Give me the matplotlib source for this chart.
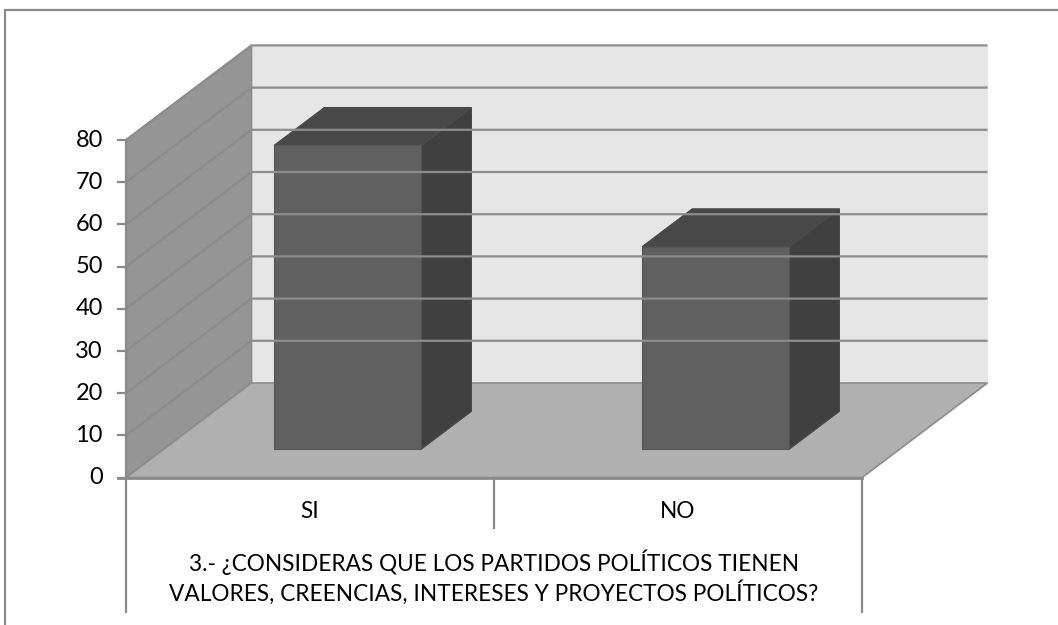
import matplotlib
matplotlib.use("Agg")
import matplotlib.pyplot as plt
from matplotlib.patches import Polygon, Rectangle
from matplotlib.lines import Line2D

# ---- data ----
categories = ["SI", "NO"]
values = [72, 48]
y_ticks = [0, 10, 20, 30, 40, 50, 60, 70, 80]
axis_title = ["3.- ¿CONSIDERAS QUE LOS PARTIDOS POLÍTICOS TIENEN",
              "VALORES, CREENCIAS, INTERESES Y PROYECTOS POLÍTICOS?"]

plt.rcParams["font.family"] = ["Lato", "DejaVu Sans"]

W, H = 1058, 625
fig = plt.figure(figsize=(W / 100, H / 100), dpi=100)
ax = fig.add_axes([0, 0, 1, 1])
ax.set_axis_off()

# front plane: category units along x, value units along y
x0_px, cat_px = 126.0, 368.0
y0_px, unit_px = 477.6, 4.22
ax.set_xlim(-x0_px / cat_px, (W - x0_px) / cat_px)
ax.set_ylim((y0_px - H) / unit_px, y0_px / unit_px)

# oblique depth offset (full depth of the plot box)
DX, DY = 125.5 / cat_px, 94.6 / unit_px
ymax = y_ticks[-1]
ncat = len(categories)


def P(x, y, d):
    """Project point (category x, value y, depth d in [0,1])."""
    return (x + DX * d, y + DY * d)


grid_c = "#8c8c8c"
kw = dict(clip_on=False)

# back wall
ax.add_patch(Polygon([P(0, 0, 1), P(ncat, 0, 1), P(ncat, ymax, 1), P(0, ymax, 1)],
                     closed=True, facecolor="#e6e6e6", edgecolor="none", **kw))
# left wall
ax.add_patch(Polygon([P(0, 0, 0), P(0, 0, 1), P(0, ymax, 1), P(0, ymax, 0)],
                     closed=True, facecolor="#959595", edgecolor=grid_c, lw=1.2, **kw))

# gridlines on both walls
for v in y_ticks[1:]:
    ax.add_line(Line2D(*zip(P(0, v, 0), P(0, v, 1), P(ncat, v, 1)),
                       color=grid_c, lw=1.6, solid_capstyle="butt", **kw))

# floor
ax.add_patch(Polygon([P(0, 0, 0), P(ncat, 0, 0), P(ncat, 0, 1), P(0, 0, 1)],
                     closed=True, facecolor="#b0b0b0", edgecolor=grid_c, lw=1.2, **kw))

# bars
bar_w, d_front, d_depth = 0.4, 0.30, 0.40
for i, v in enumerate(values):
    xl = i + 0.5 - bar_w / 2
    xr = i + 0.5 + bar_w / 2
    d0, d1 = d_front, d_front + d_depth
    front = [P(xl, 0, d0), P(xr, 0, d0), P(xr, v, d0), P(xl, v, d0)]
    top = [P(xl, v, d0), P(xr, v, d0), P(xr, v, d1), P(xl, v, d1)]
    side = [P(xr, 0, d0), P(xr, 0, d1), P(xr, v, d1), P(xr, v, d0)]
    ax.add_patch(Polygon(side, closed=True, facecolor="#404040", edgecolor="#4a4a4a", lw=0.8, **kw))
    ax.add_patch(Polygon(top, closed=True, facecolor="#484848", edgecolor="#4a4a4a", lw=0.8, **kw))
    ax.add_patch(Polygon(front, closed=True, facecolor="#606060", edgecolor="#555555", lw=0.8, **kw))

# value axis with ticks and labels
axis_c = "#8a8a8a"
tick_len = 8 / cat_px
ax.add_line(Line2D([0, 0], [0, ymax], color=axis_c, lw=1.6, **kw))
for v in y_ticks:
    ax.add_line(Line2D([-tick_len, 0], [v, v], color=axis_c, lw=1.6, **kw))
    ax.text(-23 / cat_px, v, str(v), ha="right", va="center", fontsize=17, color="#000000")

# category axis with its table-like divider lines
ax.add_line(Line2D([-tick_len, ncat], [0, 0], color=axis_c, lw=2.0, **kw))
low_outer = (y0_px - 611.7) / unit_px
low_inner = (y0_px - 528.0) / unit_px
for k in range(ncat + 1):
    bottom = low_outer if k in (0, ncat) else low_inner
    ax.add_line(Line2D([k, k], [0, bottom], color=axis_c, lw=1.6, **kw))
for i, c in enumerate(categories):
    ax.text(i + 0.5, (y0_px - 511.7) / unit_px, c, ha="center", va="center",
            fontsize=16.3, color="#000000")
for line, ypx in zip(axis_title, (562.0, 592.5)):
    ax.text(ncat / 2, (y0_px - ypx) / unit_px, line, ha="center", va="center",
            fontsize=16.3, color="#000000")

# chart area frame
fig.add_artist(Rectangle((5 / W, -0.1), 1.2, (H - 10) / H + 0.1, transform=fig.transFigure,
                         fill=False, edgecolor="#8a8a8a", lw=1.6))

fig.savefig("out.png", dpi=100)
